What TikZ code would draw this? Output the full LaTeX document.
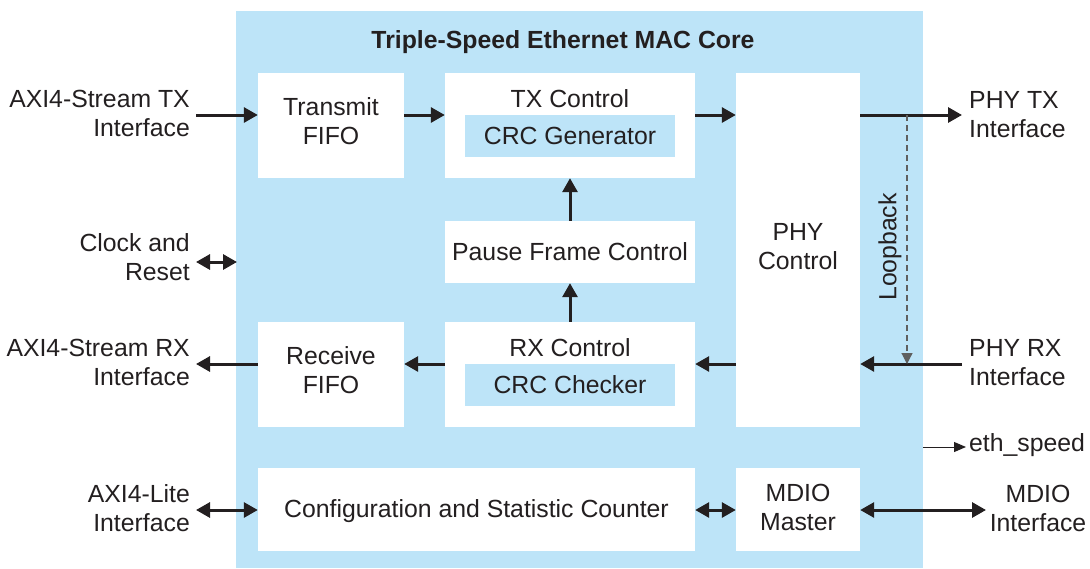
\documentclass[tikz,border=0pt]{standalone}
\usepackage{fontspec}
\setmainfont{Liberation Sans}
\usetikzlibrary{arrows.meta,calc}
\definecolor{coreblue}{RGB}{189,228,248}
\definecolor{ink}{RGB}{35,31,32}
\definecolor{dashgray}{RGB}{95,95,95}
\begin{document}
\begin{tikzpicture}[x=1pt,y=-1pt,
  every node/.style={font=\fontsize{24.8}{29}\selectfont, text=ink, inner sep=0pt},
  blockbox/.style={fill=white, draw=none, align=center},
  innerbox/.style={fill=coreblue, draw=none, minimum width=210pt, minimum height=42pt},
  arr/.style={draw=ink, line width=3pt, -{Triangle[length=14pt,width=15pt]}},
  darr/.style={draw=ink, line width=3pt, {Triangle[length=14pt,width=15pt]}-{Triangle[length=14pt,width=15pt]}},
  thinarr/.style={draw=ink, line width=1pt, -{Triangle[length=12pt,width=10pt]}},
  dasharr/.style={draw=dashgray, line width=1.2pt, dash pattern=on 6pt off 4pt, -{Triangle[length=11pt,width=11pt]}},
  extl/.style={align=right, anchor=east},
  extr/.style={align=left, anchor=west}]
\useasboundingbox (0,0) rectangle (1090,568);
% core
\fill[coreblue] (236,11) rectangle (923,568);
\node[font=\fontsize{24.8}{29}\selectfont\bfseries] (title) at (563,42) {Triple-Speed Ethernet MAC Core};

% blocks
\node[blockbox, minimum width=146pt, minimum height=105pt] (tf) at (331,125.5) {};
\node[align=center] (tfl) at (331,121) {Transmit\\FIFO};
\node[blockbox, minimum width=250pt, minimum height=105pt] (txc) at (570,125.5) {};
\node (txcl) at (570,99) {TX Control};
\node[innerbox] (crcg) at (570,136) {CRC Generator};
\node[blockbox, minimum width=124pt, minimum height=354pt] (phy) at (798,250) {};
\node[align=center] (phyl) at (798,247) {PHY\\Control};
\node[blockbox, minimum width=250pt, minimum height=62pt] (pause) at (570,252) {Pause Frame Control};
\node[blockbox, minimum width=146pt, minimum height=105pt] (rf) at (331,374.5) {};
\node[align=center] (rfl) at (331,370) {Receive\\FIFO};
\node[blockbox, minimum width=250pt, minimum height=105pt] (rxc) at (570,374.5) {};
\node (rxcl) at (570,348) {RX Control};
\node[innerbox] (crcc) at (570,385) {CRC Checker};
\node[blockbox, minimum width=437pt, minimum height=83pt] (cfg) at (476.5,509.5) {};
\node (cfgl) at (476.5,511) {Configuration and Statistic Counter};
\node[blockbox, minimum width=124pt, minimum height=83pt] (mdio) at (798,509.5) {};
\node[align=center] (mdiol) at (798,507.5) {MDIO\\Master};

% external labels
\node[extl] (axitx) at (190,113) {AXI4-Stream TX\\Interface};
\node[extl] (clk) at (190,257) {Clock and\\Reset};
\node[extl] (axirx) at (190,362) {AXI4-Stream RX\\Interface};
\node[extl] (axil) at (190,508) {AXI4-Lite\\Interface};
\node[extr] (phytx) at (969,115) {PHY TX\\Interface};
\node[extr] (phyrx) at (969,363) {PHY RX\\Interface};
\node[extr] (eth) at (969,445) {eth\_speed};
\node[align=center] (mdioif) at (1038,508) {MDIO\\Interface};
\node[rotate=90] (lbl) at (890,247) {Loopback};

% helper coordinates
\coordinate (ytx) at (0,115);
\coordinate (yrx) at (0,364);
\coordinate (ycfg) at (0,510);
\coordinate (txin) at (196,115);
\coordinate (rxout) at (196,364);
\coordinate (clkend) at (196,262);
\coordinate (coreL) at (237,262);
\coordinate (litend) at (196,510);
\coordinate (phytxend) at (962,115);
\coordinate (phyrxend) at (962,364);
\coordinate (ethA) at (923,447);
\coordinate (ethB) at (966,447);
\coordinate (mdioend) at (986,510);
\coordinate (lbA) at (907,115);
\coordinate (lbB) at (907,364);

% connectors
\draw[arr] (txin) -- (tf.west |- ytx);
\draw[arr] (tf.east |- ytx) -- (txc.west |- ytx);
\draw[arr] (txc.east |- ytx) -- (phy.west |- ytx);
\draw[arr] (phy.east |- ytx) -- (phytxend);
\draw[arr] (pause.north) -- (txc.south);
\draw[arr] (rxc.north) -- (pause.south);
\draw[arr] (phy.west |- yrx) -- (rxc.east |- yrx);
\draw[arr] (rxc.west |- yrx) -- (rf.east |- yrx);
\draw[arr] (rf.west |- yrx) -- (rxout);
\draw[arr] (phyrxend) -- (phy.east |- yrx);
\draw[dasharr] (lbA) -- (lbB);
\draw[darr] (clkend) -- (coreL);
\draw[thinarr] (ethA) -- (ethB);
\draw[darr] (litend) -- (cfg.west |- ycfg);
\draw[darr] (cfg.east |- ycfg) -- (mdio.west |- ycfg);
\draw[darr] (mdio.east |- ycfg) -- (mdioend);
\end{tikzpicture}
\end{document}
